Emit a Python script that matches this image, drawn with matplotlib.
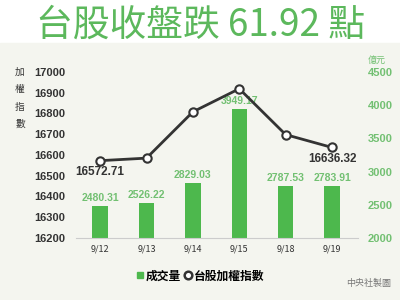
import matplotlib.pyplot as plt
from matplotlib.patches import Rectangle
from matplotlib.lines import Line2D

plt.rcParams['font.family'] = ['Noto Sans CJK TC', 'DejaVu Sans']

dates = ['9/12', '9/13', '9/14', '9/15', '9/18', '9/19']
volume = [2480.31, 2526.22, 2829.03, 3949.17, 2787.53, 2783.91]
index = [16572.71, 16584.93, 16807.98, 16919.26, 16698.24, 16636.32]

green = '#4db84d'
label_green = '#72c072'
dark = '#333333'
num_font = 'Liberation Sans'

fig = plt.figure(figsize=(4, 3), dpi=100)
fig.patches.append(Rectangle((0, 0), 1, 257 / 300, transform=fig.transFigure,
                             color='#f4f5ef', zorder=-10))
fig.text(0.5, 1 - 36 / 300, '台股收盤跌 61.92 點', ha='center', va='baseline',
         fontsize=26.5, color='#5cb85c', fontweight='light')

ax = fig.add_axes([76 / 400, 62 / 300, 282 / 400, 166 / 300])
ax.set_facecolor('none')
ax2 = ax.twinx()
ax.set_zorder(2)
ax2.set_zorder(1)

x = range(len(dates))
ax2.bar(x, volume, width=0.33, color=green, zorder=2)
for i, v in enumerate(volume):
    ax2.text(i, v + 40, f'{v:.2f}', ha='center', va='bottom', fontsize=7.5,
             color=label_green, fontweight='bold', family=num_font)
ax2.set_ylim(2000, 4500)
ax2.set_yticks(range(2000, 4501, 500))

ax.plot(x, index, color=dark, lw=2, marker='o', ms=6, mfc='white',
        mec=dark, mew=1.5, zorder=3)
ax.text(0, index[0] - 25, f'{index[0]:.2f}', ha='center', va='top',
        fontsize=8.5, color=dark, fontweight='bold', family=num_font)
ax.text(5, index[5] - 25, f'{index[5]:.2f}', ha='center', va='top',
        fontsize=8.5, color=dark, fontweight='bold', family=num_font)
ax.set_ylim(16200, 17000)
ax.set_yticks(range(16200, 17001, 100))
ax.set_xlim(-0.52, 5.56)
ax.set_xticks(list(x))
ax.set_xticklabels(dates, fontsize=6.5, color=dark)

for a in (ax, ax2):
    for s in a.spines.values():
        s.set_visible(False)
ax.spines['bottom'].set_visible(True)
ax.spines['bottom'].set_color('#cccccc')
ax.tick_params(axis='x', length=0, pad=5)
ax.tick_params(axis='y', length=0, pad=8, labelsize=8, labelcolor=dark)
ax2.tick_params(axis='y', length=0, pad=7, labelsize=8, labelcolor=label_green)
for t in ax.get_yticklabels() + ax2.get_yticklabels():
    t.set_fontweight('bold')
    t.set_family(num_font)

fig.text(20 / 400, 1 - 98 / 300, '加\n權\n指\n數', ha='center', va='center',
         fontsize=7, color=dark, linespacing=1.9)
fig.text(377 / 400, 1 - 60 / 300, '億元', ha='center', va='center',
         fontsize=6.5, color=label_green)

handles = [Line2D([], [], marker='s', ls='none', color=green, ms=4.5),
           Line2D([], [], marker='o', ls='none', mfc='white', mec=dark, mew=1.8, ms=5.5)]
fig.legend(handles, ['成交量', '台股加權指數'], loc='center', bbox_to_anchor=(0.5, 1 - 276 / 300),
           ncol=2, frameon=False, handletextpad=0.1, columnspacing=0.3,
           handlelength=0.7, prop={'weight': 'bold', 'size': 8.5})
fig.text(391 / 400, 1 - 283 / 300, '中央社製圖', ha='right', va='center',
         fontsize=6.5, color='#777777')

fig.savefig('out.png', dpi=100)
